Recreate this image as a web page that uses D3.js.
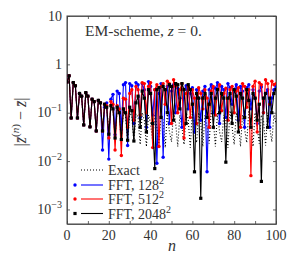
<!DOCTYPE html>
<html>
<head>
<meta charset="utf-8">
<script src="https://cdn.jsdelivr.net/npm/d3@7"></script>
<style>
  body { margin: 0; background: #fff; }
  text { font-family: "Liberation Serif", "DejaVu Serif", serif; fill: #333; }
</style>
</head>
<body>
<div id="canvas"></div>
<script>
"use strict"

// values, n = 0..100
let exact = [0.43, 0.58, 0.078, 0.42, 0.36, 0.078, 0.25, 0.22, 0.056, 0.26, 0.22, 0.051, 0.19, 0.17, 0.042, 0.18, 0.16,
    0.042, 0.15, 0.13, 0.036, 0.13, 0.11, 0.032, 0.12, 0.1, 0.03, 0.11, 0.09, 0.026, 0.1, 0.085, 0.024, 0.095, 0.08, 0.022,
    0.1, 0.07, 0.02, 0.09, 0.06, 0.025, 0.1, 0.05, 0.021, 0.09, 0.07, 0.019, 0.1, 0.04, 0.025, 0.11, 0.06, 0.02, 0.09,
    0.05, 0.022, 0.1, 0.07, 0.019, 0.12, 0.04, 0.024, 0.1, 0.06, 0.02, 0.09, 0.05, 0.023, 0.11, 0.07, 0.02, 0.1, 0.04,
    0.025, 0.09, 0.06, 0.019, 0.11, 0.05, 0.022, 0.1, 0.07, 0.02, 0.09, 0.045, 0.024, 0.11, 0.06, 0.02, 0.1, 0.05, 0.023,
    0.09, 0.07, 0.021, 0.1, 0.05, 0.025, 0.09, 0.06];

let fft128 = [0.43, 0.58, 0.078, 0.42, 0.36, 0.078, 0.25, 0.22, 0.056, 0.26, 0.22, 0.051, 0.19, 0.17, 0.042, 0.18, 0.16,
    0.017, 0.13, 0.16, 0.011, 0.19, 0.24, 0.035, 0.28, 0.25, 0.045, 0.38, 0.42, 0.021, 0.4, 0.36, 0.06, 0.42, 0.38, 0.08,
    0.4, 0.3, 0.05, 0.44, 0.35, 0.09, 0.3, 0.009, 0.25, 0.4, 0.012, 0.3, 0.35, 0.06, 0.28, 0.38, 0.1, 0.32, 0.2, 0.05,
    0.3, 0.36, 0.12, 0.25, 0.33, 0.04, 0.3, 0.2, 0.07, 0.28, 0.35, 0.006, 0.3, 0.38, 0.1, 0.32, 0.42, 0.06, 0.35, 0.3,
    0.08, 0.4, 0.33, 0.15, 0.3, 0.38, 0.07, 0.35, 0.28, 0.05, 0.33, 0.38, 0.12, 0.3, 0.2, 0.06, 0.28, 0.34, 0.1, 0.25,
    0.3, 0.05, 0.2, 0.3, 0.35];

let fft512 = [0.43, 0.58, 0.078, 0.42, 0.36, 0.078, 0.25, 0.22, 0.056, 0.26, 0.22, 0.051, 0.19, 0.17, 0.042, 0.18, 0.16,
    0.042, 0.15, 0.14, 0.03, 0.17, 0.15, 0.017, 0.14, 0.12, 0.013, 0.2, 0.19, 0.05, 0.25, 0.3, 0.07, 0.35, 0.3, 0.09,
    0.42, 0.4, 0.1, 0.35, 0.42, 0.019, 0.3, 0.38, 0.02, 0.35, 0.4, 0.15, 0.45, 0.4, 0.06, 0.48, 0.35, 0.1, 0.3, 0.4,
    0.03, 0.25, 0.35, 0.08, 0.3, 0.2, 0.06, 0.33, 0.25, 0.12, 0.3, 0.2, 0.05, 0.28, 0.35, 0.09, 0.3, 0.38, 0.11, 0.25,
    0.32, 0.07, 0.3, 0.35, 0.1, 0.28, 0.33, 0.05, 0.4, 0.35, 0.13, 0.3, 0.005, 0.35, 0.45, 0.04, 0.42, 0.38, 0.1, 0.48,
    0.4, 0.15, 0.45, 0.38, 0.4];

let fft2048 = [0.43, 0.58, 0.078, 0.42, 0.36, 0.078, 0.25, 0.22, 0.056, 0.26, 0.22, 0.051, 0.19, 0.17, 0.042, 0.18, 0.16,
    0.042, 0.15, 0.13, 0.036, 0.14, 0.12, 0.03, 0.13, 0.1, 0.028, 0.12, 0.1, 0.027, 0.13, 0.11, 0.026, 0.16, 0.22, 0.05,
    0.28, 0.2, 0.04, 0.3, 0.25, 0.06, 0.007, 0.3, 0.33, 0.08, 0.35, 0.3, 0.1, 0.38, 0.35, 0.07, 0.4, 0.38, 0.12, 0.4,
    0.3, 0.06, 0.38, 0.3, 0.15, 0.006, 0.25, 0.2, 0.0017, 0.2, 0.25, 0.08, 0.15, 0.25, 0.05, 0.2, 0.3, 0.1, 0.25, 0.2,
    0.0095, 0.2, 0.25, 0.06, 0.3, 0.22, 0.04, 0.25, 0.2, 0.08, 0.3, 0.18, 0.05, 0.25, 0.2, 0.07, 0.15, 0.0038, 0.2, 0.25,
    0.05, 0.2, 0.1, 0.25, 0.3];

let xTicks = [0, 20, 40, 60, 80, 100];
let xMinor = [10, 30, 50, 70, 90];
let yExps = [1, 0, -1, -2, -3];

let W = 300, H = 271;
let pLeft = 67, pRight = 276, pTop = 16, pBottom = 224;

let drawing = d3.select("#canvas")
    .append("svg")
    .attr("width", W)
    .attr("height", H);

let x = d3.scaleLinear().domain([0, 100]).range([pLeft, pRight]);
let y = d3.scaleLog().domain([5e-4, 10]).range([pBottom, pTop]);

drawing.append("clipPath").attr("id", "clip")
    .append("rect").attr("x", pLeft).attr("y", pTop).attr("width", pRight - pLeft).attr("height", pBottom - pTop);

let axisCol = "#444";

// axes, ticks pointing inward on all sides
let tickFmt = () => "";
drawing.append("g").attr("transform", `translate(0,${pBottom})`)
    .call(d3.axisBottom(x).tickValues(xTicks.concat(xMinor)).tickSizeInner(-3).tickSizeOuter(0).tickFormat(tickFmt));
drawing.append("g").attr("transform", `translate(0,${pTop})`)
    .call(d3.axisTop(x).tickValues(xTicks.concat(xMinor)).tickSizeInner(-3).tickSizeOuter(0).tickFormat(tickFmt));
drawing.append("g").attr("transform", `translate(${pLeft},0)`)
    .call(d3.axisLeft(y).tickValues(yExps.map(e => Math.pow(10, e))).tickSizeInner(-3).tickSizeOuter(0).tickFormat(tickFmt));
drawing.append("g").attr("transform", `translate(${pRight},0)`)
    .call(d3.axisRight(y).tickValues(yExps.map(e => Math.pow(10, e))).tickSizeInner(-3).tickSizeOuter(0).tickFormat(tickFmt));
drawing.selectAll(".domain, .tick line").attr("stroke", axisCol).attr("stroke-width", 0.8);

drawing.append("rect")
    .attr("x", pLeft).attr("y", pTop).attr("width", pRight - pLeft).attr("height", pBottom - pTop)
    .attr("fill", "none").attr("stroke", axisCol).attr("stroke-width", 1);

// tick labels
drawing.selectAll(".xlab").data(xTicks).enter().append("text")
    .attr("x", d => x(d)).attr("y", pBottom + 16)
    .attr("text-anchor", "middle").attr("font-size", 14).text(d => d);

let yl = drawing.selectAll(".ylab").data(yExps).enter().append("text")
    .attr("x", pLeft - 5).attr("y", d => y(Math.pow(10, d)) + 4.5)
    .attr("text-anchor", "end").attr("font-size", 14);
yl.each(function (e) {
    let t = d3.select(this);
    if (e === 1) t.text("10");
    else if (e === 0) t.text("1");
    else {
        t.append("tspan").text("10");
        t.append("tspan").attr("dy", -6).attr("font-size", 10).text("\u2212" + (-e));
    }
});

// axis titles
drawing.append("text").attr("x", 172).attr("y", 251).attr("text-anchor", "middle")
    .attr("font-size", 16).attr("font-style", "italic").text("n");

let ylab = drawing.append("text")
    .attr("transform", "translate(26,122) rotate(-90)")
    .attr("text-anchor", "middle").attr("font-size", 16);
ylab.append("tspan").text("|");
ylab.append("tspan").attr("font-style", "italic").text("z\u0304");
ylab.append("tspan").attr("dy", -7).attr("font-size", 11).text("(");
ylab.append("tspan").attr("font-size", 11).attr("font-style", "italic").text("n");
ylab.append("tspan").attr("font-size", 11).text(")");
ylab.append("tspan").attr("dy", 7).text(" \u2212 ");
ylab.append("tspan").attr("font-style", "italic").text("z\u0304");
ylab.append("tspan").text("|");

let ttl = drawing.append("text").attr("x", 85).attr("y", 36).attr("font-size", 15.5);
ttl.append("tspan").text("EM-scheme, ");
ttl.append("tspan").attr("font-style", "italic").text("z");
ttl.append("tspan").text(" = 0.");

// series
let series = [
    { name: "Exact", vals: exact, col: "#000", dash: "1,2", mark: null },
    { name: "FFT, 128", vals: fft128, col: "#0000ff", dash: null, mark: "circle" },
    { name: "FFT, 512", vals: fft512, col: "#ff0000", dash: null, mark: "circle" },
    { name: "FFT, 2048", vals: fft2048, col: "#000", dash: null, mark: "square" }
];

let plot = drawing.append("g").attr("clip-path", "url(#clip)");
let line = d3.line().x((d, i) => x(i)).y(d => y(d));

function drawMarks(g, s, pts) {
    if (s.mark === "circle") {
        g.selectAll("circle").data(pts).enter().append("circle")
            .attr("cx", d => d[0]).attr("cy", d => d[1]).attr("r", 1.7).attr("fill", s.col);
    } else if (s.mark === "square") {
        g.selectAll("rect").data(pts).enter().append("rect")
            .attr("x", d => d[0] - 1.6).attr("y", d => d[1] - 1.6)
            .attr("width", 3.2).attr("height", 3.2).attr("fill", s.col);
    }
}

series.forEach(s => {
    let g = plot.append("g");
    g.append("path").datum(s.vals).attr("d", line)
        .attr("fill", "none").attr("stroke", s.col).attr("stroke-width", 1.1)
        .attr("stroke-dasharray", s.dash);
    drawMarks(g, s, s.vals.map((v, i) => [x(i), y(v)]));
});

// legend
let legY = [170, 185, 199, 213.5];
series.forEach((s, i) => {
    let g = drawing.append("g");
    g.append("line").attr("x1", 81).attr("x2", 103).attr("y1", legY[i]).attr("y2", legY[i])
        .attr("stroke", s.col).attr("stroke-width", 1.1).attr("stroke-dasharray", s.dash);
    drawMarks(g, s, [[75, legY[i]]]);
    let t = g.append("text").attr("x", 108).attr("y", legY[i] + 5).attr("font-size", 14).text(s.name);
    if (s.mark) t.append("tspan").attr("dy", -6).attr("font-size", 10).text("2");
});
</script>
</body>
</html>
